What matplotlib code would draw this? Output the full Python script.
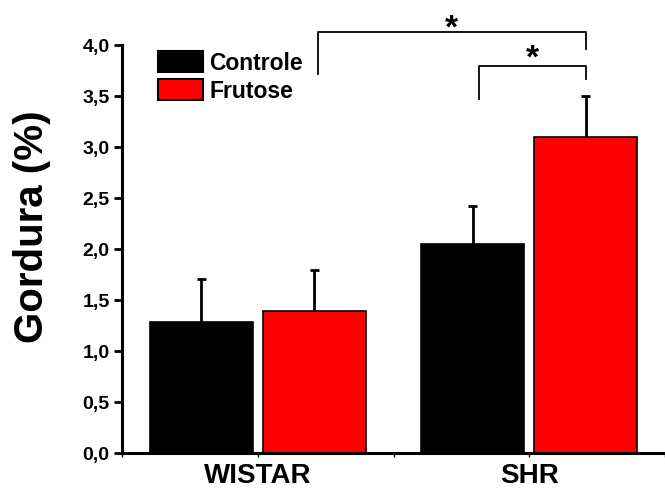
import matplotlib

matplotlib.use("Agg")
import matplotlib.pyplot as plt
import numpy as np
from matplotlib.patches import Patch

groups = ["WISTAR", "SHR"]
series = ["Controle", "Frutose"]
controle = [1.28, 2.05]
controle_err = [0.43, 0.37]
frutose = [1.39, 3.10]
frutose_err = [0.40, 0.40]
yticks = [0.0, 0.5, 1.0, 1.5, 2.0, 2.5, 3.0, 3.5, 4.0]

plt.rcParams["font.family"] = ["Liberation Sans", "DejaVu Sans"]
plt.rcParams["font.weight"] = "bold"

fig = plt.figure(figsize=(6.65, 4.88), dpi=100)
ax = fig.add_axes([0.1835, 0.0717, 0.8165, 0.836])

x = np.arange(len(groups))
width = 0.38
off = 0.208
cap = 0.016


def bars_with_err(xs, vals, errs, color):
    ax.bar(xs, vals, width, color=color, edgecolor="black", linewidth=1.2, zorder=2)
    tops = np.array(vals) + np.array(errs)
    ax.vlines(xs, vals, tops, color="black", lw=2, zorder=3)
    ax.hlines(tops, xs - cap, xs + cap, color="black", lw=2, zorder=3)


bars_with_err(x - off, controle, controle_err, "black")
bars_with_err(x + off, frutose, frutose_err, "#ff0000")

ax.set_xlim(-0.487, 1.48)
ax.set_ylim(0, 4.0)
ax.set_yticks(yticks)
ax.set_yticklabels([f"{v:.1f}".replace(".", ",") for v in yticks], fontsize=14, fontweight="bold")
ax.set_xticks(x)
ax.set_xticklabels(groups, fontsize=20, fontweight="bold")
ax.set_xticks([-0.5, 0.5, 1.5], minor=True)
ax.tick_params(axis="y", length=6, width=2, pad=3)
ax.tick_params(axis="x", which="both", length=3, width=1, pad=4)
ax.set_ylabel("Gordura (%)", fontsize=29, fontweight="bold", va="center")
ax.yaxis.set_label_coords(-0.165, 0.555)

for s in ["top", "right"]:
    ax.spines[s].set_visible(False)
ax.spines["left"].set_linewidth(2.2)
ax.spines["bottom"].set_linewidth(2.2)


def bracket(x0, x1, top, left_bottom, right_bottom, star_y):
    ax.plot([x0, x0, x1, x1], [left_bottom, top, top, right_bottom],
            color="black", lw=1.3, clip_on=False, zorder=3)
    ax.text((x0 + x1) / 2, star_y, "*", ha="center", va="center",
            fontsize=24, fontweight="bold", clip_on=False)


# WISTAR frutose vs SHR frutose, SHR controle vs SHR frutose
bracket(x[0] + off + 0.013, x[1] + off, 4.13, 3.72, 3.96, 4.16)
bracket(x[1] - off + 0.022, x[1] + off, 3.79, 3.47, 3.67, 3.86)

handles = [Patch(facecolor="black", edgecolor="black", linewidth=1.5),
           Patch(facecolor="#ff0000", edgecolor="black", linewidth=1.5)]
ax.legend(handles, series, loc="upper left", bbox_to_anchor=(0.066, 0.985),
          frameon=False, prop={"weight": "bold", "size": 16.5},
          handlelength=1.95, handleheight=1.05, handletextpad=0.3,
          labelspacing=0.2, borderpad=0, borderaxespad=0)

fig.savefig("out.png", dpi=100)
